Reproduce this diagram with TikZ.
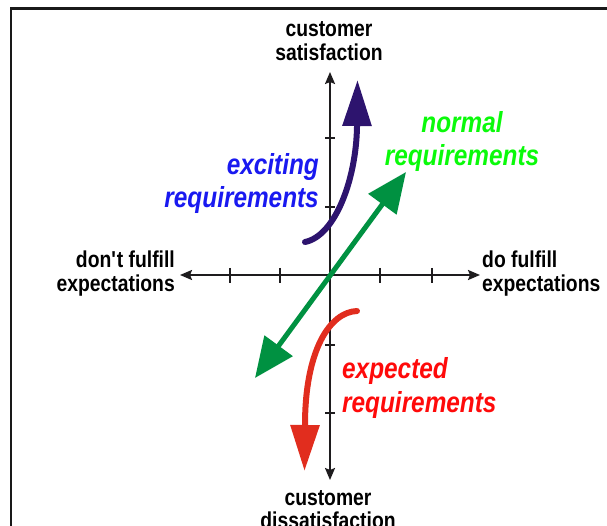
\documentclass[tikz,border=0pt]{standalone}
\usepackage{fontspec}
\setmainfont{Liberation Sans}[FakeStretch=0.84]
\usetikzlibrary{arrows.meta}
\definecolor{axcol}{RGB}{30,28,30}
\definecolor{exctext}{RGB}{25,25,240}
\definecolor{excarrow}{RGB}{45,20,110}
\definecolor{nortext}{RGB}{10,250,10}
\definecolor{norarrow}{RGB}{0,145,65}
\definecolor{exptext}{RGB}{255,10,10}
\definecolor{exparrow}{RGB}{225,45,30}
\tikzset{
  blk/.style={font=\fontsize{23}{23}\selectfont\bfseries, inner sep=0pt, text=black},
  col/.style={font=\fontsize{29}{29}\selectfont\bfseries\itshape, inner sep=0pt},
  axis/.style={draw=axcol, line width=2pt, {Stealth[length=12pt,width=10pt,inset=2pt]}-{Stealth[length=12pt,width=10pt,inset=2pt]}},
  tick/.style={draw=axcol, line width=1.3pt},
  bigarrow/.style={line width=6pt, -{Triangle[length=46pt,width=28pt]}},
}
\begin{document}
\begin{tikzpicture}[x=1pt,y=-1pt]
\useasboundingbox (0,0) rectangle (607,526);
\clip (0,0) rectangle (607,526);
% frame
\draw[line width=2.2pt, draw=black!90] (11,560) -- (11,8.5) -- (640,8.5);
% axes
\coordinate (O) at (330,275);
\coordinate (xl) at (180,275);
\coordinate (xr) at (480,275);
\coordinate (yt) at (330,72);
\coordinate (yb) at (330,480);
\draw[axis] (xl) -- (xr);
\draw[axis] (yb) -- (yt);
\foreach \x in {230,280,380,432} \draw[tick] (\x,268) -- (\x,283);
\foreach \y in {138,207,345,413} \draw[tick] (325,\y) -- (335,\y);
% black labels
\node[blk, anchor=base] (sat1) at (329,37) {customer};
\node[blk, anchor=base] (sat2) at (329,60.5) {satisfaction};
\node[blk, anchor=base] (dis1) at (328,505) {customer};
\node[blk, anchor=base] (dis2) at (328,528.5) {dissatisfaction};
\node[blk, anchor=base east] (nf1) at (175,268) {don\textquotesingle t fulfill};
\node[blk, anchor=base east] (nf2) at (175,291.5) {expectations};
\node[blk, anchor=base west] (df1) at (482,268) {do fulfill};
\node[blk, anchor=base west] (df2) at (482,291.5) {expectations};
% coloured labels
\node[col, text=exctext, anchor=base east] (exc1) at (319,175) {exciting};
\node[col, text=exctext, anchor=base east] (exc2) at (319,208) {requirements};
\node[col, text=nortext, anchor=base] (nor1) at (462,133) {normal};
\node[col, text=nortext, anchor=base] (nor2) at (462,166) {requirements};
\node[col, text=exptext, anchor=base west] (exp1) at (342,378) {expected};
\node[col, text=exptext, anchor=base west] (exp2) at (342,412) {requirements};
% normal requirements arrow
\coordinate (gA) at (255,378);
\coordinate (gB) at (406,172);
\draw[draw=norarrow, line width=5pt, {Triangle[length=40pt,width=34pt]}-{Triangle[length=40pt,width=34pt]}] (gA) -- (gB);
% exciting requirements arrow
\coordinate (pS) at (305,242);
\coordinate (pM) at (357,127);
\coordinate (pT) at (357.5,80);
\draw[bigarrow, draw=excarrow, line cap=round] (pS) .. controls (335,236) and (356,180) .. (pM) -- (pT);
% expected requirements arrow
\coordinate (rS) at (357,311);
\coordinate (rM) at (305,425);
\coordinate (rT) at (304.5,471);
\draw[bigarrow, draw=exparrow, line cap=round] (rS) .. controls (330,312) and (305,350) .. (rM) -- (rT);
\end{tikzpicture}
\end{document}
